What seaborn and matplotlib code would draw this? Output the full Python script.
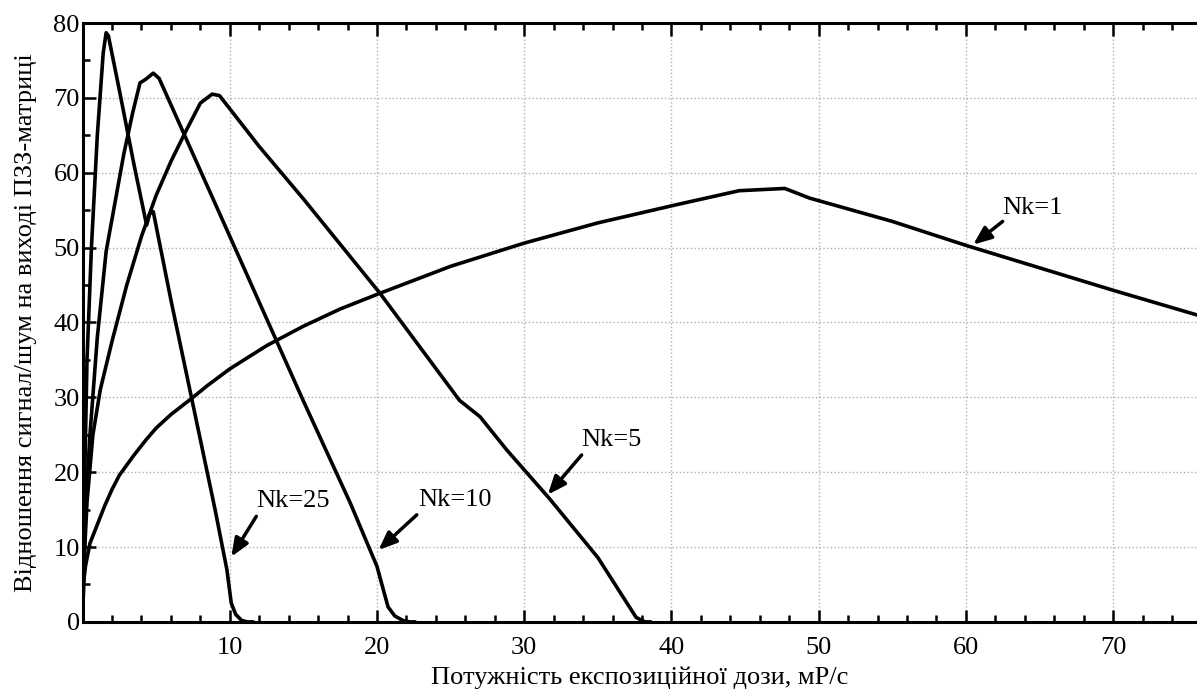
import pandas as pd
import matplotlib
matplotlib.use('Agg')
import matplotlib.pyplot as plt
from matplotlib.ticker import MultipleLocator
import seaborn as sns

# Curves: exposure dose rate (x) vs signal/noise (y)
nk25_x = [0, 0.1, 0.3, 0.6, 1.0, 1.4, 1.6, 1.75, 2.5, 3.5, 4.35, 4.55, 4.8,
          6.0, 7.5, 9.0, 9.8, 10.1, 10.4, 10.8, 11.2, 11.6]
nk25_y = [0, 15, 35, 50, 65, 76, 78.7, 78.3, 71, 61, 53, 54.5, 54.8,
          43, 29, 15, 7, 2.5, 1.0, 0.2, 0, 0]

nk10_x = [0, 0.2, 0.5, 1.0, 1.6, 2.2, 2.8, 3.4, 3.9, 4.3, 4.8, 5.2, 10, 15,
          18.2, 20.0, 20.4, 20.75, 21.2, 21.75, 22.2, 22.6]
nk10_y = [0, 15, 25, 38, 49.5, 56, 62.5, 68, 72, 72.5, 73.3, 72.6, 51.5, 29.5,
          15.8, 7.4, 4.5, 2.0, 0.8, 0.2, 0, 0]

nk5_x = [0, 0.1, 0.3, 0.7, 1.2, 2.0, 3.0, 4.0, 5.0, 6.0, 7.0, 8.0, 8.8, 9.3,
         12, 15, 20.2, 25.6, 27.0, 28.8, 31.7, 35, 37.6, 38.2, 38.6]
nk5_y = [0, 8, 16, 25, 31, 37.5, 45, 51.5, 57, 61.5, 65.5, 69.3, 70.5, 70.3,
         63.5, 56.5, 43.9, 29.6, 27.4, 23, 16.5, 8.6, 0.6, 0, 0]

nk1_x = [0, 0.05, 0.2, 0.5, 1.0, 1.5, 2.0, 2.5, 3.5, 4.3, 5.0, 6.0, 7.5, 8.5,
         10, 12.5, 15, 17.5, 20.2, 25, 30, 35, 40.5, 44.6, 47.7, 49.4, 55,
         60, 65, 70, 75.7]
nk1_y = [3, 5, 7.5, 10.5, 13, 15.5, 17.7, 19.6, 22.3, 24.3, 25.9, 27.7, 30,
         31.6, 33.8, 36.9, 39.5, 41.8, 43.9, 47.5, 50.6, 53.3, 55.8, 57.6,
         57.9, 56.6, 53.5, 50.3, 47.3, 44.3, 41]

curves = [(nk25_x, nk25_y), (nk10_x, nk10_y), (nk5_x, nk5_y), (nk1_x, nk1_y)]

# Labels: text position, arrow start, arrow tip
labels = ['Nk=25', 'Nk=10', 'Nk=5', 'Nk=1']
label_xy = [(11.8, 16.1), (22.8, 16.3), (33.9, 24.3), (62.5, 55.3)]
arrow_from = [(11.8, 14.1), (22.7, 14.3), (33.9, 22.3), (62.5, 53.5)]
arrow_to = [(10.1, 8.7), (20.1, 9.6), (31.6, 17.0), (60.5, 50.4)]

sns.set_style('ticks')
plt.rcParams['font.family'] = ['Liberation Serif', 'DejaVu Serif']
plt.rcParams['text.color'] = 'black'
plt.rcParams['axes.labelcolor'] = 'black'

fig = plt.figure(figsize=(11.97, 6.91), dpi=100)
ax = fig.add_axes([0.069, 0.1, 0.931, 0.8667])

for cx, cy in curves:
    sns.lineplot(x=cx, y=cy, ax=ax, color='black', linewidth=2.6,
                 estimator=None, sort=False)

for lab, txy, a0, a1 in zip(labels, label_xy, arrow_from, arrow_to):
    ax.text(txy[0], txy[1], lab, fontsize=19, va='center', ha='left',
            color='black')
    ax.annotate('', xy=a1, xytext=a0,
                arrowprops=dict(arrowstyle='-|>,head_length=1.1,head_width=0.45',
                                color='black', lw=2.5, shrinkA=0, shrinkB=0))

ax.set_xlim(0, 75.7)
ax.set_ylim(0, 80)
ax.set_xticks(range(10, 71, 10))
ax.set_yticks(range(0, 81, 10))
ax.xaxis.set_minor_locator(MultipleLocator(2))
ax.yaxis.set_minor_locator(MultipleLocator(5))
ax.tick_params(which='both', direction='in', top=True, right=False,
               width=1.8, labelsize=19, colors='black')
ax.tick_params(which='major', length=9)
ax.tick_params(which='minor', length=5)
ax.tick_params(axis='x', which='major', pad=11)
ax.tick_params(axis='y', which='major', pad=2)
ax.grid(True, which='major', color='#b0b0b0', linestyle=':', linewidth=1.0)

for side in ['left', 'top', 'bottom']:
    ax.spines[side].set_linewidth(2.2)
    ax.spines[side].set_color('black')
ax.spines['right'].set_visible(False)

ax.set_xlabel('Потужність експозиційної дози, мР/с', fontsize=19, labelpad=5)
ax.set_ylabel('Відношення сигнал/шум на виході ПЗЗ-матриці', fontsize=19,
              labelpad=12)

fig.savefig('out.png', dpi=100)
